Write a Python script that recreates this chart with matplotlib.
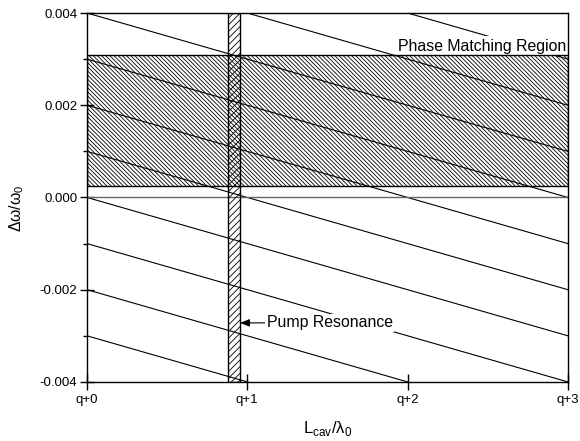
import matplotlib
matplotlib.use('Agg')
import matplotlib.pyplot as plt
from matplotlib.patches import Rectangle
import numpy as np

plt.rcParams['font.family'] = ['Liberation Sans', 'DejaVu Sans']
plt.rcParams['hatch.linewidth'] = 0.6

# dados
modos = [0, 1, 2, 3]
rotulos_x = ['q+0', 'q+1', 'q+2', 'q+3']
ticks_y = [-0.004, -0.002, 0.0, 0.002, 0.004]
rotulos_y = ['-0.004', '-0.002', '0.000', '0.002', '0.004']
ticks_y_menores = [-0.003, -0.001, 0.001, 0.003]

# linhas de ressonancia: dw/w0 = c + inclinacao * (L/lambda)
interceptos = [-0.003, -0.002, -0.001, 0.0, 0.001, 0.002, 0.003, 0.004, 0.005, 0.006]
inclinacao = -0.001

# regioes
casamento_fase = (0.00025, 0.0031)   # faixa em dw/w0
ressonancia_bomba = (0.88, 0.955)    # faixa em L/lambda
seta_y = -0.00272

fig = plt.figure(figsize=(5.8, 4.41), dpi=100)
ax = fig.add_axes([0.15, 0.134, 0.829, 0.8365])

xs = np.array([modos[0], modos[-1]])
for c in interceptos:
    ax.plot(xs, c + inclinacao * xs, color='black', lw=0.8, zorder=2)

ax.axhline(0.0, color='0.4', lw=1.0, zorder=2)

# regiao de casamento de fase
ax.add_patch(Rectangle((modos[0], casamento_fase[0]), modos[-1] - modos[0],
                       casamento_fase[1] - casamento_fase[0],
                       facecolor='none', edgecolor='black', lw=1.0,
                       hatch='\\' * 8, zorder=4))

# ressonancia da bomba
ax.add_patch(Rectangle((ressonancia_bomba[0], ticks_y[0]),
                       ressonancia_bomba[1] - ressonancia_bomba[0],
                       ticks_y[-1] - ticks_y[0],
                       facecolor='none', edgecolor='black', lw=1.0,
                       hatch='/' * 5, zorder=4))

ax.text(2.99, casamento_fase[1] + 0.00002, 'Phase Matching Region',
        ha='right', va='bottom', fontsize=11.4, zorder=3,
        bbox=dict(facecolor='white', edgecolor='none', pad=2))

ax.annotate('Pump Resonance', xy=(ressonancia_bomba[1], seta_y),
            xytext=(1.12, seta_y), ha='left', va='center', fontsize=11.4,
            zorder=3,
            bbox=dict(facecolor='white', edgecolor='none', pad=1),
            arrowprops=dict(arrowstyle='-|>,head_length=0.5,head_width=0.2',
                            color='black', lw=0.8, shrinkA=0, shrinkB=0))

ax.set_xlim(modos[0], modos[-1])
ax.set_ylim(ticks_y[0], ticks_y[-1])
ax.set_xticks(modos)
ax.set_xticklabels(rotulos_x)
ax.set_yticks(ticks_y)
ax.set_yticklabels(rotulos_y)
ax.set_yticks(ticks_y_menores, minor=True)

ax.tick_params(axis='x', direction='inout', length=12, width=1, labelsize=9.5, pad=3)
ax.tick_params(axis='y', which='major', direction='inout', length=10, width=1,
               labelsize=9.5, pad=2)
ax.tick_params(axis='y', which='minor', direction='out', length=3, width=1)

for s in ax.spines.values():
    s.set_linewidth(1.0)
    s.set_zorder(5)

ax.set_xlabel('L$_\\mathregular{cav}$/λ$_\\mathregular{0}$', fontsize=12, labelpad=9)
ax.set_ylabel('Δω/ω$_\\mathregular{0}$', fontsize=11.4)
ax.yaxis.set_label_coords(-0.127, 0.47)

fig.savefig('out.png', dpi=100)
